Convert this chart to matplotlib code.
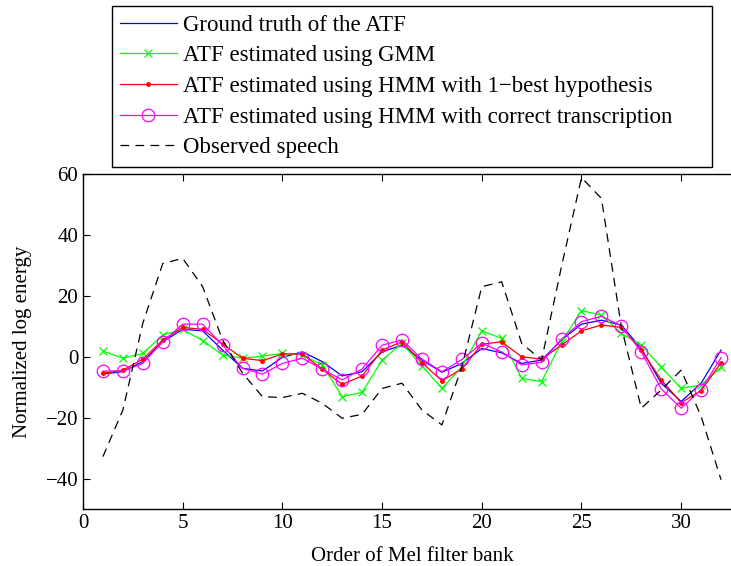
import numpy as np
import matplotlib
matplotlib.use("Agg")
import matplotlib.pyplot as plt

plt.rcParams['font.family'] = ['Liberation Serif', 'DejaVu Serif']

# orden del banco de filtros Mel
banda = np.arange(1, 33)

# ATF real
ground_truth = [-5.7, -4.9, -1.6, 4.9, 9.0, 8.5, 2.2, -3.8, -4.7, -0.2, 1.6,
                -1.6, -6.3, -4.9, 1.6, 3.8, -1.1, -5.1, -2.2, 2.7, 1.3,
                -2.2, -1.1, 5.5, 10.7, 12.0, 10.4, 2.7, -8.7, -14.7, -8.7, 2.2]
# estimada con GMM
gmm = [1.9, -0.5, 1.1, 7.1, 9.0, 5.3, 0.6, -0.5, 0.2, 1.1, 0.6,
       -2.7, -13.1, -11.7, -1.1, 4.4, -3.0, -10.4, -3.3, 8.5, 6.0,
       -7.1, -8.2, 4.9, 15.1, 13.7, 7.7, 3.8, -3.4, -10.4, -9.3, -3.4]
# HMM con la 1-best
hmm_1best = [-5.4, -4.4, -0.8, 5.5, 9.6, 9.0, 4.2, -0.5, -1.3, 0.9, 0.9,
             -4.1, -9.1, -6.3, 2.2, 4.9, -2.0, -7.9, -4.0, 4.1, 4.9,
             0.0, -0.8, 3.8, 8.5, 10.4, 9.6, 2.2, -7.6, -15.1, -11.1, -2.0]
# HMM con la transcripcion correcta
hmm_correct = [-4.7, -4.7, -2.2, 4.9, 10.7, 10.7, 3.8, -3.8, -5.7, -2.2, -0.5,
               -4.1, -7.6, -4.0, 3.8, 5.5, -0.8, -4.9, -0.9, 4.4, 1.6,
               -2.7, -1.8, 5.8, 11.5, 13.3, 10.1, 1.6, -10.6, -16.9, -10.8, -0.3]
# habla observada
observed = [-32.8, -17.5, 11.0, 30.6, 32.3, 23.0, 5.5, -5.4, -13.1, -13.4, -12.0,
            -15.3, -20.2, -18.9, -10.4, -8.7, -17.5, -22.4, -3.3, 23.0, 24.6,
            4.4, -1.1, 29.7, 58.8, 52.0, 9.8, -16.9, -10.9, -4.4, -19.6, -40.4]

fig = plt.figure(figsize=(7.31, 5.66), dpi=100)
ax = fig.add_axes([83 / 731, 1 - 509 / 566, 658 / 731, 335 / 566])

ax.plot(banda, ground_truth, color='blue', lw=0.9, label='Ground truth of the ATF')
ax.plot(banda, gmm, color='#00ff00', lw=0.9, marker='x', ms=6, mew=0.9,
        label='ATF estimated using GMM')
ax.plot(banda, hmm_1best, color='red', lw=0.9, marker='.', ms=5,
        label='ATF estimated using HMM with 1\u2212best hypothesis')
ax.plot(banda, hmm_correct, color='magenta', lw=0.9, marker='o', ms=9, mfc='none',
        mew=0.9, label='ATF estimated using HMM with correct transcription')
ax.plot(banda, observed, color='black', lw=0.9, ls=(0, (7, 5)), label='Observed speech')

ax.set_xlim(0, 33)
ax.set_ylim(-50, 60)
ax.set_xticks(np.arange(0, 35, 5))
ax.set_yticks(np.arange(-40, 61, 20))
ax.set_yticklabels(['\u221240', '\u221220', '0', '20', '40', '60'])
ax.tick_params(direction='in', top=True, right=True, labelsize=15, length=5)
for s in ax.spines.values():
    s.set_linewidth(1.0)
ax.set_xlabel('Order of Mel filter bank', fontsize=15, labelpad=10)
ax.set_ylabel('Normalized log energy', fontsize=15, labelpad=10)

leg = fig.legend(loc='upper left', bbox_to_anchor=(111.7 / 731, 1 - 6 / 566, 600 / 731, 0),
                 mode='expand', fontsize=16.5, frameon=True, fancybox=False,
                 edgecolor='black', framealpha=1, handlelength=2.45, handletextpad=0.28,
                 labelspacing=0.42, borderpad=0.38, borderaxespad=0)
leg.get_frame().set_linewidth(1.0)

fig.savefig('out.png', dpi=100)
